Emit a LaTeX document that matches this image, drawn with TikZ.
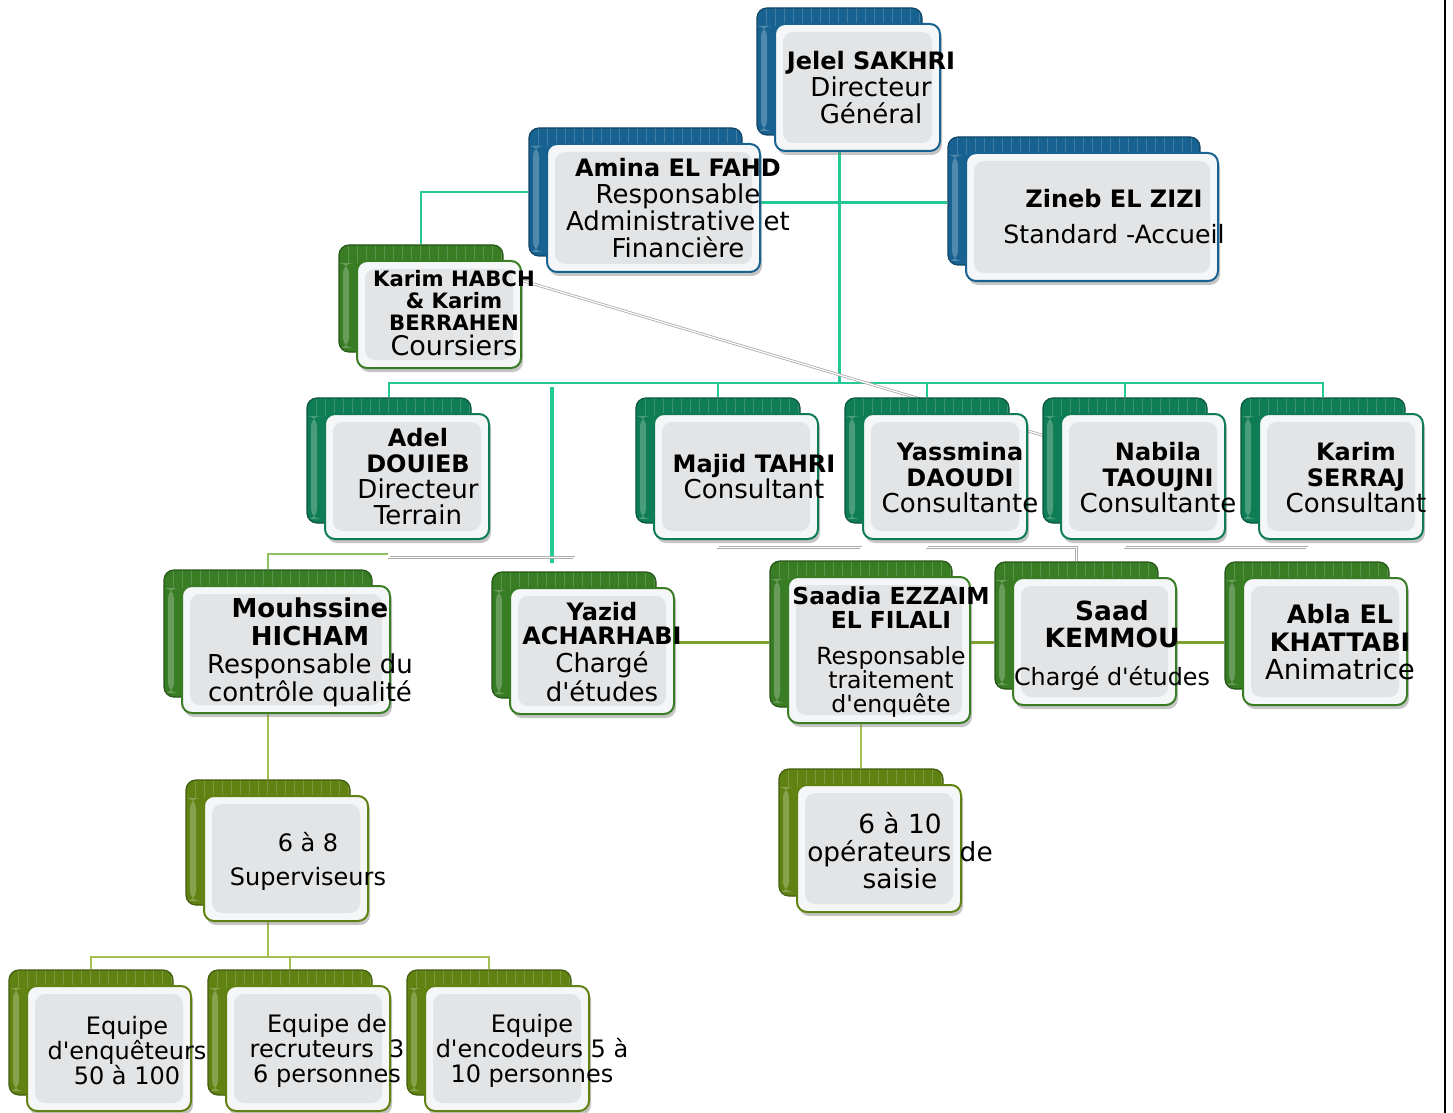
\documentclass[tikz,border=0pt]{standalone}
\usepackage{fontspec}
\setmainfont{DejaVu Sans}
\usepackage{tikz}
\usetikzlibrary{positioning}
\usetikzlibrary{shadows}
\usetikzlibrary{backgrounds}

\definecolor{bluecard}{RGB}{24,98,145}
\definecolor{tealcard}{RGB}{14,124,84}
\definecolor{greencard}{RGB}{56,124,36}
\definecolor{olivecard}{RGB}{96,130,18}
\definecolor{cardface}{RGB}{226,228,230}
\definecolor{cardrim}{RGB}{245,246,247}
\definecolor{tealline}{RGB}{36,200,150}
\definecolor{oliveline}{RGB}{126,160,48}
\definecolor{lgreenline}{RGB}{140,196,100}
\definecolor{paleolive}{RGB}{165,190,80}
\definecolor{greyline}{RGB}{170,170,170}

\newcommand{\who}[2][12]{{\fontsize{#1}{13.5}\selectfont\bfseries #2}}

\tikzset{
    backcard/.style={
        rectangle,
        rounded corners=5pt,
        draw=#1!70!black,
        fill=#1,
        line width=0.6pt,
        minimum width=82pt,
        minimum height=63pt,
        path picture={
            \foreach \k in {1,...,30}
                \draw[white, opacity=0.18, line width=0.5pt]
                    ([xshift=\k*4.5pt]path picture bounding box.north west) -- ++(0,-9pt);
            \fill[white, opacity=0.25]
                ([shift={(2pt,-9pt)}]path picture bounding box.north west)
                rectangle ([shift={(5pt,2pt)}]path picture bounding box.south west);
        }
    },
    frontcard/.style={
        rectangle,
        rounded corners=5pt,
        draw=#1,
        line width=1pt,
        fill=cardrim,
        minimum width=82pt,
        minimum height=63pt,
        drop shadow={opacity=0.45, shadow xshift=1pt, shadow yshift=-2pt},
        path picture={
            \fill[cardface]
                ([shift={(4pt,4pt)}]path picture bounding box.south west)
                rectangle ([shift={(-4pt,-4pt)}]path picture bounding box.north east);
        }
    },
    cardsize/.style 2 args={minimum width=#1, minimum height=#2},
    cardtext/.style={align=center, inner sep=0pt, font=\fontsize{13}{13.5}\selectfont},
    link/.style={line width=1pt, draw=tealline},
    greylink/.style={draw=greyline, line width=0.4pt, double=white, double distance=0.6pt}
}

\begin{document}
\begin{tikzpicture}[x=0.5pt, y=-0.5pt]
\path[use as bounding box] (0,0) rectangle (1453,1113);

% direction
\node[backcard=bluecard, cardsize={82.5pt}{63.5pt}] (jelel) at (839.5,71.5) {};
\node[frontcard=bluecard, cardsize={82.5pt}{63.5pt}] (jelel-f) at ([shift={(9pt,-8pt)}]jelel.center) {};
\node[backcard=bluecard, cardsize={106.5pt}{64pt}] (amina) at (635.5,192) {};
\node[frontcard=bluecard, cardsize={106.5pt}{64pt}] (amina-f) at ([shift={(9pt,-8pt)}]amina.center) {};
\node[backcard=bluecard, cardsize={126pt}{64pt}] (zineb) at (1074,201) {};
\node[frontcard=bluecard, cardsize={126pt}{64pt}] (zineb-f) at ([shift={(9pt,-8pt)}]zineb.center) {};
\node[backcard=greencard, cardsize={82pt}{53.5pt}] (habch) at (421,298.5) {};
\node[frontcard=greencard, cardsize={82pt}{53.5pt}] (habch-f) at ([shift={(9pt,-8pt)}]habch.center) {};

% consultants
\foreach \n/\x in {adel/389, majid/718, yassmina/927, nabila/1125, karimS/1323} {
    \node[backcard=tealcard, cardsize={82pt}{62.5pt}] (\n) at (\x,460.5) {};
    \node[frontcard=tealcard, cardsize={82pt}{62.5pt}] (\n-f) at ([shift={(9pt,-8pt)}]\n.center) {};
}

% chefs d'equipe
\node[backcard=greencard, cardsize={104pt}{63.5pt}] (mouhssine) at (268,633.5) {};
\node[frontcard=greencard, cardsize={104pt}{63.5pt}] (mouhssine-f) at ([shift={(9pt,-8pt)}]mouhssine.center) {};
\node[backcard=greencard] (yazid) at (574,635) {};
\node[frontcard=greencard] (yazid-f) at ([shift={(9pt,-8pt)}]yazid.center) {};
\node[backcard=greencard, cardsize={91pt}{73pt}] (saadia) at (861,634) {};
\node[frontcard=greencard, cardsize={91pt}{73pt}] (saadia-f) at ([shift={(9pt,-8pt)}]saadia.center) {};
\node[backcard=greencard, cardsize={81.5pt}{63.5pt}] (saad) at (1076.5,625.5) {};
\node[frontcard=greencard, cardsize={81.5pt}{63.5pt}] (saad-f) at ([shift={(9pt,-8pt)}]saad.center) {};
\node[backcard=greencard, cardsize={82pt}{63.5pt}] (abla) at (1307,625.5) {};
\node[frontcard=greencard, cardsize={82pt}{63.5pt}] (abla-f) at ([shift={(9pt,-8pt)}]abla.center) {};

% equipes
\node[backcard=olivecard, cardsize={82pt}{62.5pt}] (superv) at (268,842.5) {};
\node[frontcard=olivecard, cardsize={82pt}{62.5pt}] (superv-f) at ([shift={(9pt,-8pt)}]superv.center) {};
\node[backcard=olivecard, cardsize={82pt}{63.5pt}] (operat) at (861,832.5) {};
\node[frontcard=olivecard, cardsize={82pt}{63.5pt}] (operat-f) at ([shift={(9pt,-8pt)}]operat.center) {};
\foreach \n/\x in {equipeA/91, equipeB/290, equipeC/489} {
    \node[backcard=olivecard, cardsize={82pt}{62.5pt}] (\n) at (\x,1032.5) {};
    \node[frontcard=olivecard, cardsize={82pt}{62.5pt}] (\n-f) at ([shift={(9pt,-8pt)}]\n.center) {};
}

% texts
\node[cardtext] (jelel-t) at (871,88) {\who{Jelel SAKHRI}\\Directeur\\Général};
\node[cardtext] (amina-t) at (678,208) {\who{Amina EL FAHD}\\Responsable\\Administrative et\\Financière};
\node[cardtext, font=\fontsize{12.6}{13.5}\selectfont] (zineb-t) at (1114,217) {\who{Zineb EL ZIZI}\\[4.5pt]Standard -Accueil};
\node[cardtext, font=\fontsize{10.6}{11}\selectfont\bfseries] (habch-t) at (454,313) {Karim HABCH\\\& Karim\\BERRAHEN\\[1.5pt]{\mdseries\fontsize{13.5}{11}\selectfont Coursiers}};
\node[cardtext, font=\fontsize{13}{13}\selectfont] (adel-t) at (418,477) {\who{Adel}\\\who{DOUIEB}\\Directeur\\Terrain};
\node[cardtext, font=\fontsize{13}{13}\selectfont] (majid-t) at (754,477) {\who{Majid TAHRI}\\Consultant};
\node[cardtext, font=\fontsize{13}{13}\selectfont] (yassmina-t) at (960,478) {\who{Yassmina}\\\who{DAOUDI}\\Consultante};
\node[cardtext, font=\fontsize{13}{13}\selectfont] (nabila-t) at (1158,478) {\who{Nabila}\\\who{TAOUJNI}\\Consultante};
\node[cardtext, font=\fontsize{13}{13}\selectfont] (karimS-t) at (1356,478) {\who{Karim}\\\who{SERRAJ}\\Consultant};
\node[cardtext, font=\fontsize{13}{14}\selectfont] (mouhssine-t) at (310,652) {\who[13]{Mouhssine}\\\who[13]{HICHAM}\\Responsable du\\contrôle qualité};
\node[cardtext, font=\fontsize{13}{13}\selectfont] (yazid-t) at (602,652) {\who{Yazid}\\[-1pt]\who{ACHARHABI}\\[1pt]Chargé\\d\textquotesingle{}études};
\node[cardtext, font=\fontsize{11.8}{12}\selectfont] (saadia-t) at (891,652) {\who[11.7]{Saadia EZZAIM}\\\who[11.7]{EL FILALI}\\[6pt]Responsable\\traitement\\d\textquotesingle{}enquête};
\node[cardtext, font=\fontsize{11.9}{13.5}\selectfont] (saad-t) at (1112,645) {\who[13.2]{Saad}\\\who[13.2]{KEMMOU}\\[5.5pt]Chargé d\textquotesingle{}études};
\node[cardtext, font=\fontsize{13.8}{14}\selectfont] (abla-t) at (1340,642) {\who[12.7]{Abla EL}\\\who[12.7]{KHATTABI}\\Animatrice};
\node[cardtext, font=\fontsize{12}{13}\selectfont] (superv-t) at (308,861) {6 à 8\\[4pt]Superviseurs};
\node[cardtext, font=\fontsize{13.2}{13.75}\selectfont] (operat-t) at (900,851) {6 à 10\\opérateurs de\\saisie};
\node[cardtext, font=\fontsize{12}{12.5}\selectfont] (equipeA-t) at (127,1051) {Equipe\\d\textquotesingle{}enquêteurs\\50 à 100};
\node[cardtext, font=\fontsize{12}{12.5}\selectfont] (equipeB-t) at (327,1051) {Equipe de\\recruteurs~~3\\6 personnes};
\node[cardtext, font=\fontsize{12}{12.5}\selectfont] (equipeC-t) at (532,1051) {Equipe\\d\textquotesingle{}encodeurs 5 à\\10 personnes};

% links
\coordinate (bus) at (840,383);
\coordinate (drop) at (552,563);
\coordinate (olv) at (0,642);
\coordinate (ebus) at (0,957);
\begin{scope}[on background layer]
\fill[white] (0,0) rectangle (1453,1113);
\draw[link, line width=1.5pt] (jelel.south) -- (jelel.south |- bus);
\draw[link, line width=1.5pt] ([yshift=2.5pt]amina-f.east) -- ([yshift=2.5pt]amina-f.east -| zineb.west);
\draw[link] (amina.west) -| (habch.north);
\draw[link] (adel.north) |- (karimS.north |- bus) -- (karimS.north);
\foreach \n in {majid, yassmina, nabila}
    \draw[link] (\n.north) -- (\n.north |- bus);
\draw[link, line width=2pt] ([yshift=-2pt]drop |- bus) -- (drop);
\draw[greylink] ([yshift=17pt]habch-f.east) -- ([yshift=18pt]nabila-f.west);
\draw[lgreenline, line width=1pt] (adel.south) -- ++(0,-15pt) -| (mouhssine.north);
\draw[greylink] (adel.south) -- ++(0,-17pt) -| (yazid.north);
\draw[greylink] (majid.south) -- ++(0,-12pt) -| (saadia.north);
\draw[greylink] (yassmina.south) -- ++(0,-12pt) -| (saad.north);
\draw[greylink] (nabila.south) -- ++(0,-12pt) -| (abla.north);
\draw[oliveline, line width=1.5pt] (yazid-f.east |- olv) -- (saadia.west |- olv);
\draw[oliveline, line width=1.5pt] (saadia-f.east |- olv) -- (saad.west |- olv);
\draw[oliveline, line width=1.5pt] (saad-f.east |- olv) -- (abla.west |- olv);
\draw[paleolive, line width=1pt] (mouhssine.south) -- (superv.north);
\draw[paleolive, line width=1pt] (saadia.south) -- (operat.north);
\draw[paleolive, line width=1pt] (superv.south) -- (superv.south |- ebus);
\draw[paleolive, line width=1pt] (equipeA.north) |- (equipeC.north |- ebus) -- (equipeC.north);
\draw[paleolive, line width=1pt] (equipeB.north) -- (equipeB.north |- ebus);
\end{scope}

\draw[black, line width=1.2pt] (1445,0) -- (1445,1113);
\end{tikzpicture}
\end{document}
